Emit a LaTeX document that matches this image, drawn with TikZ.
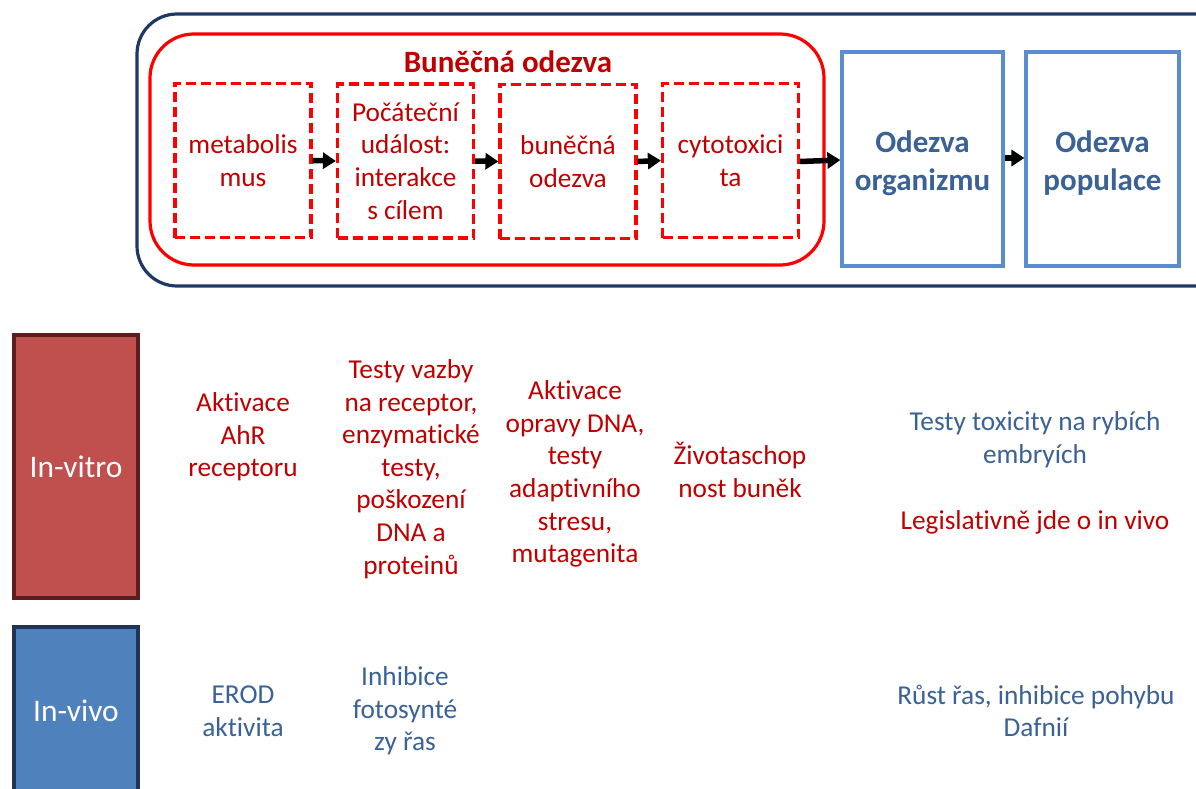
\documentclass[tikz,border=0pt]{standalone}
\usepackage{fontspec}
\setmainfont{Carlito}[Ligatures=NoCommon]
\usetikzlibrary{arrows.meta}
\definecolor{navy}{HTML}{1F3864}
\definecolor{darkred}{HTML}{C00000}
\definecolor{boxblue}{HTML}{5B8BD0}
\definecolor{txtblue}{HTML}{3A6296}
\definecolor{vitrofill}{HTML}{C0504D}
\definecolor{vitroedge}{HTML}{5A1F1D}
\definecolor{vivofill}{HTML}{4F81BD}
\definecolor{vivoedge}{HTML}{1F3553}
\tikzset{
  body/.style={font=\fontsize{27.3}{32.6}\selectfont, align=center, inner sep=0pt},
  redtxt/.style={body, text=darkred},
  bluetxt/.style={body, text=txtblue},
  stagebox/.style={draw=red, line width=3.2pt, dash pattern=on 10pt off 5pt,
    minimum width=136pt, minimum height=154pt, body, text=darkred},
  levelbox/.style={draw=boxblue, line width=3.2pt, minimum height=214pt, inner sep=0pt},
  leveltxt/.style={font=\fontsize{31}{38}\selectfont\bfseries, align=center,
    text=txtblue, inner sep=0pt},
  flow/.style={line width=5.5pt, -{Triangle[length=13pt, width=16pt]}},
  sidebox/.style={line width=3.2pt, text=white,
    font=\fontsize{31.4}{36}\selectfont, inner sep=0pt}
}
\begin{document}
\begin{tikzpicture}[x=1pt, y=-1pt]
\clip (0,0) rectangle (1196,789);
\fill[white] (0,0) rectangle (1196,789);

% outer frame and cellular response frame
\draw[navy, line width=3.2pt, rounded corners=40pt] (137,14) rectangle (1240,286);
\draw[red, line width=3.2pt, rounded corners=44pt] (150,34) rectangle (824,265);
\node[font=\fontsize{31}{36}\selectfont\bfseries, text=darkred] (title) at (508,62) {Buněčná odezva};

% cellular stages
\node[stagebox] (s1) at (243,160.5) {metabolis\\mus};
\node[stagebox] (s2) at (405.5,161) {Počáteční\\událost:\\interakce\\s cílem};
\node[stagebox] (s3) at (568,161.5) {buněčná\\odezva};
\node[stagebox] (s4) at (730.5,160.5) {cytotoxici\\ta};

% higher levels
\node[levelbox, minimum width=161pt] (org) at (922.5,159) {};
\node[leveltxt] (orgt) at ([yshift=-4pt]org.center) {Odezva\\organizmu};
\node[levelbox, minimum width=153pt] (pop) at (1102.5,159) {};
\node[leveltxt] (popt) at ([yshift=-4pt]pop.center) {Odezva\\populace};

\draw[flow] (s1.east) -- (s2.west);
\draw[flow] (s2.east) -- (s3.west);
\draw[flow] (s3.east) -- (s4.west);
\draw[flow] ([yshift=-1pt]s4.east) -- ([yshift=-1pt]org.west);
\draw[flow] ([yshift=1pt]org.east) -- ([yshift=1pt]pop.west);

% row labels
\fill[vitrofill] (14,335) rectangle (138,598);
\draw[vitroedge, line width=3.2pt] (14,335) rectangle (138,598);
\node[sidebox] (vitro) at (76,466.5) {In-vitro};
\fill[vivofill] (14,627) rectangle (138,820);
\draw[vivoedge, line width=3.2pt] (14,627) rectangle (138,820);
\node[sidebox] (vivo) at (76,711) {In-vivo};

% in vitro methods
\node[redtxt] (a1) at (243,437) {Aktivace\\AhR\\receptoru};
\node[redtxt] (a2) at (411,469) {Testy vazby\\na receptor,\\enzymatické\\testy,\\poškození\\DNA a\\proteinů};
\node[redtxt] (a3) at (575,474) {Aktivace\\opravy DNA,\\testy\\adaptivního\\stresu,\\mutagenita};
\node[redtxt] (a4) at (740,470) {Životaschop\\nost buněk};
\node[bluetxt] (a5) at (1035,440) {Testy toxicity na rybích\\embryích};
\node[redtxt] (a6) at (1035,522) {Legislativně jde o in vivo};

% in vivo methods
\node[bluetxt] (b1) at (243,711) {EROD\\aktivita};
\node[bluetxt] (b2) at (405,711) {Inhibice\\fotosynté\\zy řas};
\node[bluetxt] (b3) at (1036,711) {Růst řas, inhibice pohybu\\Dafnií};
\end{tikzpicture}
\end{document}
